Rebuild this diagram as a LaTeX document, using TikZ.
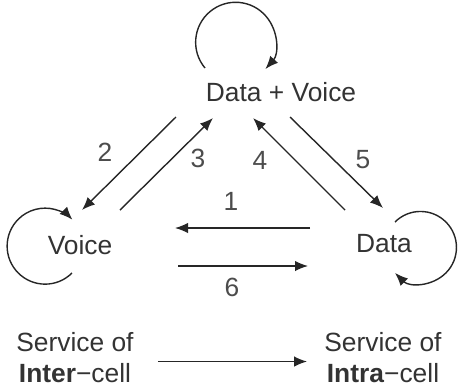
\documentclass[tikz,border=0pt]{standalone}
\usepackage{fontspec}
\setmainfont{Liberation Sans}
\usetikzlibrary{arrows.meta}
\tikzset{
  txt/.style={font=\fontsize{15}{17.6}\selectfont, text=black!80, inner sep=0pt},
  num/.style={font=\fontsize{15}{17.6}\selectfont, text=black!70, inner sep=0pt},
  arr/.style={-{Latex[length=2.6mm,width=2.1mm]}, line width=0.8pt, draw=black!85}
}

\begin{document}
\begin{tikzpicture}[x=0.02cm,y=-0.02cm]
\useasboundingbox (0,0) rectangle (459,389);
% states
\node[txt] (dv) at (281,92) {Data + Voice};
\node[txt] (voice) at (80,245) {Voice};
\node[txt] (data) at (384,244) {Data};
% self loops
\draw[arr] ([shift={(-76,-24)}]dv.center) arc[start angle=140,end angle=402,radius=40];
\draw[arr] ([shift={(-8,28)}]voice.center) arc[start angle=45,end angle=316,radius=38];
\draw[arr] ([shift={(11,-22)}]data.center) arc[start angle=225,end angle=495,radius=36];
% transitions
\draw[arr] ([shift={(-105,25)}]dv.center) -- ([shift={(2,-35)}]voice.center);
\draw[arr] ([shift={(40,-35)}]voice.center) -- ([shift={(-68,26)}]dv.center);
\draw[arr] ([shift={(-39,-34)}]data.center) -- ([shift={(-28,26)}]dv.center);
\draw[arr] ([shift={(9,25)}]dv.center) -- ([shift={(-1,-36)}]data.center);
\draw[arr] ([shift={(-74,-16)}]data.center) -- ([shift={(95,-17)}]voice.center);
\draw[arr] ([shift={(98,21)}]voice.center) -- ([shift={(-76,22)}]data.center);
% labels
\node[num] (l1) at (231,201) {1};
\node[num] (l2) at (105,152) {2};
\node[num] (l3) at (198,158) {3};
\node[num] (l4) at (260,160) {4};
\node[num] (l5) at (363,160) {5};
\node[num] (l6) at (232,287) {6};
% legend
\node[txt,align=center] (inter) at (75,358) {Service of\\\textbf{Inter}−cell};
\node[txt,align=center] (intra) at (383,358) {Service of\\\textbf{Intra}−cell};
\draw[arr,shorten <=4.8mm,shorten >=3.4mm] ([yshift=-2]inter.east) -- ([yshift=-2]intra.west);
\end{tikzpicture}
\end{document}
